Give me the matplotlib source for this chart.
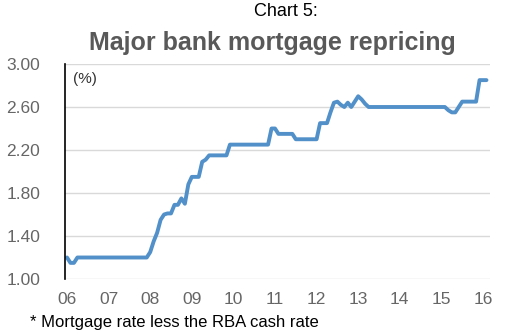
import matplotlib
matplotlib.use("Agg")
import matplotlib.pyplot as plt
import numpy as np

plt.rcParams['font.family'] = ['Liberation Sans', 'DejaVu Sans']

# Monthly spread (%), starting Jan 2006
spread = [1.20, 1.15, 1.15] + [1.20] * 21 + [
    1.25, 1.35, 1.43, 1.55, 1.60, 1.61, 1.61, 1.69, 1.69, 1.75, 1.70, 1.88,
    1.95, 1.95, 1.95, 2.09, 2.11, 2.15, 2.15, 2.15, 2.15, 2.15, 2.15, 2.25,
] + [2.25] * 11 + [2.40, 2.40] + [2.35] * 5 + [2.30] * 7 + [
    2.45, 2.45, 2.45, 2.55, 2.64, 2.65, 2.62, 2.60, 2.64, 2.60, 2.65, 2.70,
    2.67, 2.63,
] + [2.60] * 23 + [2.57, 2.55, 2.55, 2.60] + [2.65] * 5 + [2.85, 2.85, 2.85]
start_year = 2006
year_ticks = list(range(2006, 2017))
year_labels = ['06', '07', '08', '09', '10', '11', '12', '13', '14', '15', '16']
y_ticks = [1.00, 1.40, 1.80, 2.20, 2.60, 3.00]

x = start_year + np.arange(len(spread)) / 12.0

fig = plt.figure(figsize=(5.08, 3.34), dpi=100)
ax = fig.add_axes([65 / 508, 55 / 334, 425 / 508, 215 / 334])
ax.plot(x, spread, color='#5190c9', lw=2.8, solid_joinstyle='round', solid_capstyle='round')

ax.set_xlim(2006 - 2 / 41.6, 2016 + 7 / 41.6)
ax.set_ylim(1.0, 3.0)
ax.set_yticks(y_ticks)
ax.set_yticklabels([f"{v:.2f}" for v in y_ticks])
ax.set_xticks(year_ticks)
ax.set_xticklabels(year_labels)
ax.tick_params(axis='y', length=0, pad=18, labelsize=12.5, labelcolor='#666666')
ax.tick_params(axis='x', length=0, pad=9, labelsize=12.5, labelcolor='#666666')
ax.grid(axis='y', color='#d9d9d9', lw=1)
ax.set_axisbelow(True)
for s in ['top', 'right', 'bottom']:
    ax.spines[s].set_visible(False)
ax.spines['left'].set_color('black')
ax.spines['left'].set_linewidth(1.2)
ax.text(0.02, 0.93, '(%)', transform=ax.transAxes, fontsize=11, color='#333333', va='center', ha='left')

fig.text(286 / 508, 1 - 12 / 334, 'Chart 5:', ha='center', va='center', fontsize=13, color='black')
fig.text(272 / 508, 1 - 43 / 334, 'Major bank mortgage repricing', ha='center', va='center',
         fontsize=18, fontweight='bold', color='#595959')
fig.text(30 / 508, 1 - 323 / 334, '* Mortgage rate less the RBA cash rate', ha='left', va='center',
         fontsize=12, color='black')

fig.savefig('out.png', dpi=100)
